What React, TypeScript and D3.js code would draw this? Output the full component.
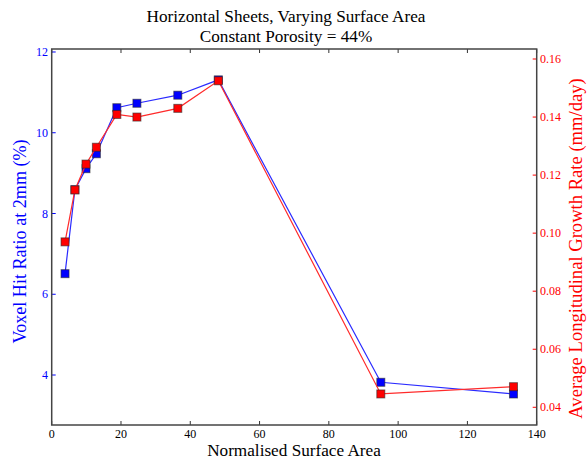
import React from "react";
import * as d3 from "d3";

const surfaceArea = [3.85, 6.7, 9.9, 12.9, 18.8, 24.6, 36.4, 48.1, 95.0, 133.3];
const voxelHitRatio = [6.51, 8.59, 9.11, 9.48, 10.62, 10.73, 10.93, 11.31, 3.82, 3.53];
const growthRate = [0.097, 0.1149, 0.1238, 0.1296, 0.1409, 0.140, 0.143, 0.1525, 0.0446, 0.0471];
const xTicks = [0, 20, 40, 60, 80, 100, 120, 140];
const leftTicks = [4, 6, 8, 10, 12];
const rightTicks = [0.04, 0.06, 0.08, 0.1, 0.12, 0.14, 0.16];

const W = 587, H = 463;
const L = 51.7, R = 536.7, T = 49, B = 425;
const FONT = "'Liberation Serif', 'Times New Roman', Times, serif";
const tf = { fontFamily: FONT };

export default function App() {
  const x = d3.scaleLinear().domain([0, 140]).range([L, R]);
  const yL = d3.scaleLinear().domain([2.762, 12.074]).range([B, T]);
  const yR = d3.scaleLinear().domain([0.0339, 0.16345]).range([B, T]);
  const lineL = d3.line<number>().x((_, i) => x(surfaceArea[i])).y((d) => yL(d));
  const lineR = d3.line<number>().x((_, i) => x(surfaceArea[i])).y((d) => yR(d));
  const ms = 8;
  return (
    <svg width={W} height={H} style={{ position: "absolute", left: 0, top: 0, background: "#fff" }}>
      <text x={286} y={22} textAnchor="middle" fontSize={17.2} fill="#000" style={tf}>Horizontal Sheets, Varying Surface Area</text>
      <text x={286} y={41.5} textAnchor="middle" fontSize={17.2} fill="#000" style={tf}>Constant Porosity = 44%</text>
      {xTicks.map((t) => (
        <g key={"x" + t}>
          <line x1={x(t)} x2={x(t)} y1={B} y2={B - 4} stroke="#333" strokeWidth={1} />
          <line x1={x(t)} x2={x(t)} y1={T} y2={T + 4} stroke="#333" strokeWidth={1} />
          <text x={x(t)} y={438} textAnchor="middle" fontSize={12} fill="#000" style={tf}>{t}</text>
        </g>
      ))}
      {leftTicks.map((t) => (
        <g key={"l" + t}>
          <line x1={L} x2={L + 4} y1={yL(t)} y2={yL(t)} stroke="#00f" strokeWidth={1} />
          <text x={48} y={yL(t) + 4} textAnchor="end" fontSize={12} fill="#00f" style={tf}>{t}</text>
        </g>
      ))}
      {rightTicks.map((t) => (
        <g key={"r" + t}>
          <line x1={R - 4} x2={R} y1={yR(t)} y2={yR(t)} stroke="#f00" strokeWidth={1} />
          <text x={540} y={yR(t) + 4} textAnchor="start" fontSize={12} fill="#f00" style={tf}>{t.toFixed(2)}</text>
        </g>
      ))}
      <rect x={L} y={T} width={R - L} height={B - T} fill="none" stroke="#444" strokeWidth={1.5} />
      <path d={lineL(voxelHitRatio) || ""} fill="none" stroke="#2a2aff" strokeWidth={1.2} />
      {voxelHitRatio.map((v, i) => (
        <rect key={"bm" + i} x={x(surfaceArea[i]) - ms / 2} y={yL(v) - ms / 2} width={ms} height={ms} fill="#00f" stroke="rgba(40,40,40,0.6)" strokeWidth={1} />
      ))}
      <path d={lineR(growthRate) || ""} fill="none" stroke="#ff2a2a" strokeWidth={1.2} />
      {growthRate.map((v, i) => (
        <rect key={"rm" + i} x={x(surfaceArea[i]) - ms / 2} y={yR(v) - ms / 2} width={ms} height={ms} fill="#f00" stroke="rgba(40,40,40,0.6)" strokeWidth={1} />
      ))}
      <text x={294} y={456} textAnchor="middle" fontSize={17.2} fill="#000" style={tf}>Normalised Surface Area</text>
      <text transform={`translate(26,241.5) rotate(-90)`} textAnchor="middle" fontSize={18.1} fill="#00f" style={tf}>Voxel Hit Ratio at 2mm (%)</text>
      <text transform={`translate(582,248.5) rotate(-90)`} textAnchor="middle" fontSize={18.6} fill="#f00" style={tf}>Average Longitudinal Growth Rate (mm/day)</text>
    </svg>
  );
}
